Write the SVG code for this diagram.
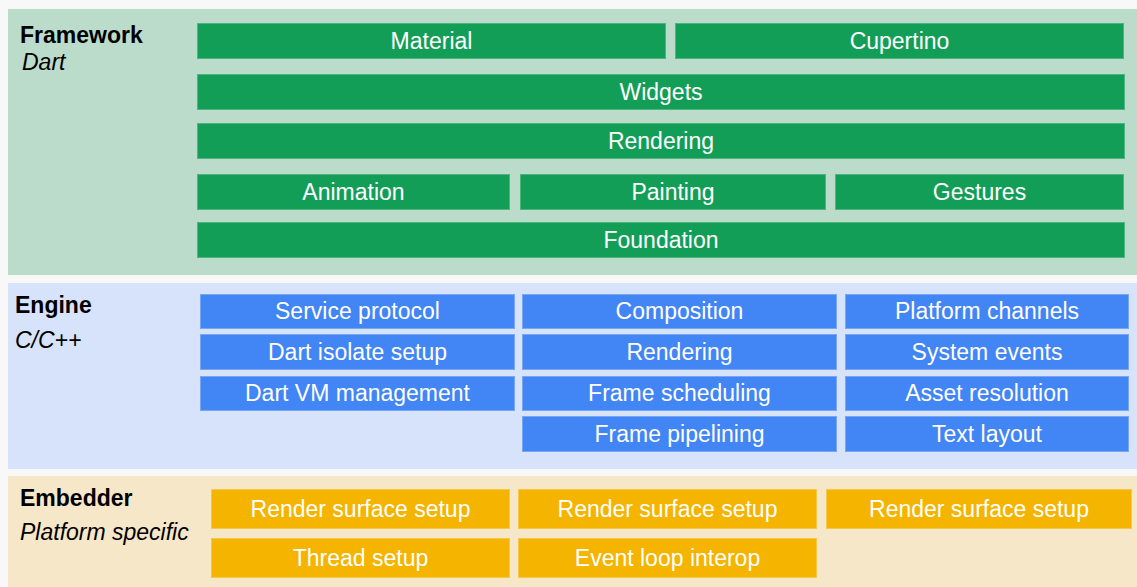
<svg xmlns="http://www.w3.org/2000/svg" width="1137" height="587" viewBox="0 0 1137 587">
<style>
.bg{fill:#f8f8f8}
.p1{fill:#bcdccb}
.p2{fill:#d6e3fb}
.p3{fill:#f7e7c9}
.g rect{fill:#139e58;stroke:#4db47f;stroke-width:1}
.b rect{fill:#4285f4;stroke:#78a6f3;stroke-width:1}
.y rect{fill:#f4b400;stroke:#f6c84a;stroke-width:1}
.t{font-family:"Liberation Sans",Arial,sans-serif;font-size:23px;fill:#ffffff;text-anchor:middle}
.h{font-family:"Liberation Sans",Arial,sans-serif;font-size:23px;font-weight:bold;fill:#000}
.s{font-family:"Liberation Sans",Arial,sans-serif;font-size:23px;font-style:italic;fill:#000}
</style>
<rect class="bg" x="0" y="0" width="1137" height="587"/>
<g id="framework">
<rect class="p1" x="8" y="9" width="1129" height="266"/>
<text class="h" x="20" y="43">Framework</text>
<text class="s" x="22" y="70">Dart</text>
</g>
<g id="engine">
<rect class="p2" x="8" y="283" width="1129" height="186"/>
<text class="h" x="15" y="313">Engine</text>
<text class="s" x="15" y="348">C/C++</text>
</g>
<g id="embedder">
<rect class="p3" x="8" y="476" width="1129" height="111"/>
<text class="h" x="20" y="506">Embedder</text>
<text class="s" x="20" y="540">Platform specific</text>
</g>
<g id="material" class="g"><rect x="197.5" y="23.5" width="468" height="35"/><text class="t" x="431.5" y="49">Material</text></g>
<g id="cupertino" class="g"><rect x="675.5" y="23.5" width="448" height="35"/><text class="t" x="899.5" y="49">Cupertino</text></g>
<g id="widgets" class="g"><rect x="197.5" y="74.5" width="927" height="35"/><text class="t" x="661" y="100">Widgets</text></g>
<g id="rendering-fw" class="g"><rect x="197.5" y="123.5" width="927" height="35"/><text class="t" x="661" y="149">Rendering</text></g>
<g id="animation" class="g"><rect x="197.5" y="174.5" width="312" height="35"/><text class="t" x="353.5" y="200">Animation</text></g>
<g id="painting" class="g"><rect x="520.5" y="174.5" width="305" height="35"/><text class="t" x="673" y="200">Painting</text></g>
<g id="gestures" class="g"><rect x="835.5" y="174.5" width="288" height="35"/><text class="t" x="979.5" y="200">Gestures</text></g>
<g id="foundation" class="g"><rect x="197.5" y="222.5" width="927" height="35"/><text class="t" x="661" y="248">Foundation</text></g>
<g id="service-protocol" class="b"><rect x="200.5" y="294.5" width="314" height="34"/><text class="t" x="357.5" y="319">Service protocol</text></g>
<g id="composition" class="b"><rect x="522.5" y="294.5" width="314" height="34"/><text class="t" x="679.5" y="319">Composition</text></g>
<g id="platform-channels" class="b"><rect x="845.5" y="294.5" width="283" height="34"/><text class="t" x="987" y="319">Platform channels</text></g>
<g id="dart-isolate-setup" class="b"><rect x="200.5" y="334.5" width="314" height="35"/><text class="t" x="357.5" y="360">Dart isolate setup</text></g>
<g id="rendering-en" class="b"><rect x="522.5" y="334.5" width="314" height="35"/><text class="t" x="679.5" y="360">Rendering</text></g>
<g id="system-events" class="b"><rect x="845.5" y="334.5" width="283" height="35"/><text class="t" x="987" y="360">System events</text></g>
<g id="dart-vm-management" class="b"><rect x="200.5" y="376.5" width="314" height="34"/><text class="t" x="357.5" y="401">Dart VM management</text></g>
<g id="frame-scheduling" class="b"><rect x="522.5" y="376.5" width="314" height="34"/><text class="t" x="679.5" y="401">Frame scheduling</text></g>
<g id="asset-resolution" class="b"><rect x="845.5" y="376.5" width="283" height="34"/><text class="t" x="987" y="401">Asset resolution</text></g>
<g id="frame-pipelining" class="b"><rect x="522.5" y="416.5" width="314" height="35"/><text class="t" x="679.5" y="442">Frame pipelining</text></g>
<g id="text-layout" class="b"><rect x="845.5" y="416.5" width="283" height="35"/><text class="t" x="987" y="442">Text layout</text></g>
<g id="render-surface-setup-1" class="y"><rect x="211.5" y="489.5" width="298" height="39"/><text class="t" x="360.5" y="517">Render surface setup</text></g>
<g id="render-surface-setup-2" class="y"><rect x="518.5" y="489.5" width="298" height="39"/><text class="t" x="667.5" y="517">Render surface setup</text></g>
<g id="render-surface-setup-3" class="y"><rect x="826.5" y="489.5" width="305" height="39"/><text class="t" x="979" y="517">Render surface setup</text></g>
<g id="thread-setup" class="y"><rect x="211.5" y="538.5" width="298" height="39"/><text class="t" x="360.5" y="566">Thread setup</text></g>
<g id="event-loop-interop" class="y"><rect x="518.5" y="538.5" width="298" height="39"/><text class="t" x="667.5" y="566">Event loop interop</text></g>
<g id="connectors"></g>
</svg>
